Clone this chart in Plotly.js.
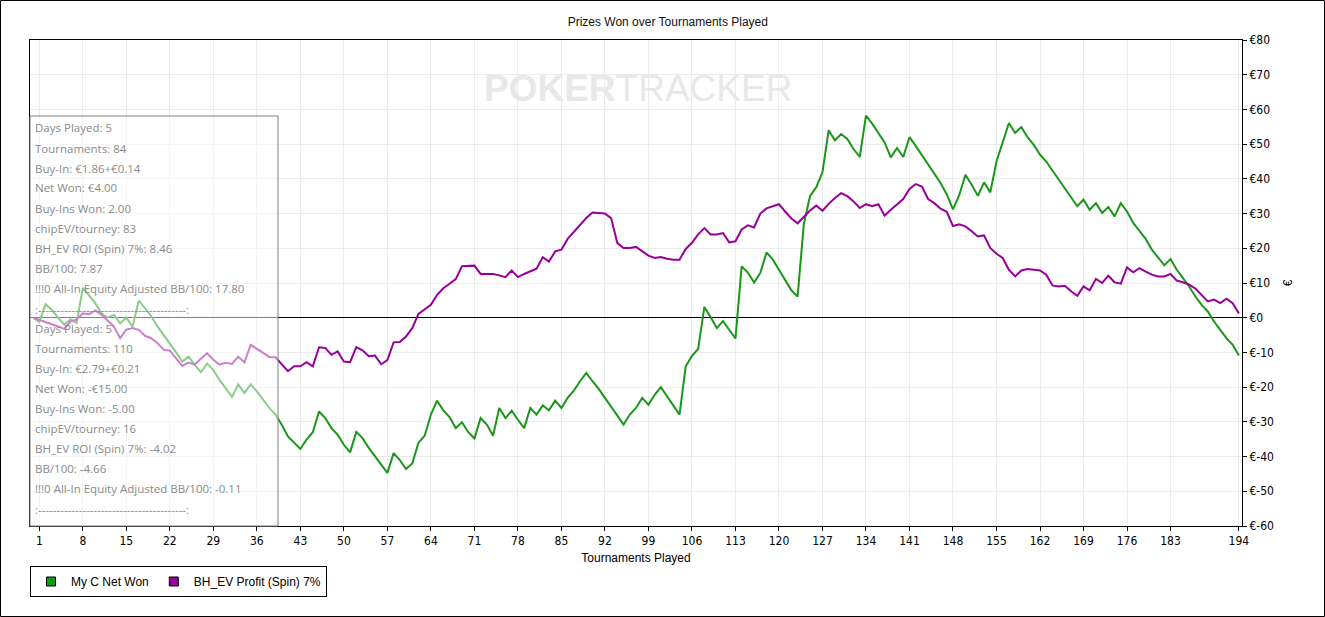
<!DOCTYPE html>
<html>
<head>
<meta charset="utf-8">
<script src="https://cdn.plot.ly/plotly-3.0.1.min.js"></script>
<style>html,body{margin:0;padding:0;background:#fff;}#chart{width:1325px;height:617px;}</style>
</head>
<body>
<div id="chart"></div>
<script>
// Tournament index (0 = start)
const tournaments = Array.from({length: 195}, (_, i) => i);

const netWon = [
0,-1.2,3.9,2.3,0,-2,-0.5,-1.5,8.6,6.3,
4.2,1.3,0,0.8,-1.6,0,-2.6,4.9,2.8,0.5,
-2.5,-4.9,-7.3,-10,-12.6,-11.2,-13.5,-15.7,-13.2,-15.1,
-17.9,-20.3,-22.8,-19.2,-21.7,-19.2,-21.2,-23.6,-26,-27.9,
-30.8,-34.2,-36.1,-37.8,-35.1,-33,-27,-28.9,-31.8,-33.7,
-36.6,-38.8,-32.9,-34.7,-37.5,-39.9,-42.3,-44.7,-39,-41,
-43.6,-42,-36,-34,-27.9,-23.9,-26.7,-28.6,-31.8,-30.1,
-32.9,-34.8,-28.9,-30.8,-34,-26,-28.9,-26.8,-29.4,-31.8,
-26,-27.9,-25.3,-26.7,-23.9,-26,-23.1,-21,-18.3,-15.9,
-18.3,-20.5,-23.1,-25.5,-28.2,-30.8,-27.9,-26,-23.1,-25.1,
-22.2,-20,-22.7,-25.1,-27.9,-14,-11,-9,3.1,0.2,
-3,-1,-3.5,-6,14.8,13,10.1,12.9,18.8,16.8,
13.8,10.7,7.9,6.1,27,35,37.6,41.9,54,51.1,
52.9,51.5,48.6,46.3,58.2,55.9,53.2,50.5,46.2,48.9,
46.3,52,49.5,46.8,44,41.5,38.8,35.5,31.2,35.3,
41.2,38.3,35.1,39,36.1,45,50.3,56.1,53.2,54.9,
52,49.8,47,45,42.4,39.8,37.1,34.8,32.1,34,
31.1,33,30.2,31.9,29.2,33,30.6,27.3,24.9,22.7,
19.6,17.2,15.1,16.9,13.8,11.4,9,6.1,3.7,1.8,
-1.1,-3.5,-5.9,-7.8,-10.9
];

const evProfit = [
0,-0.7,-1.3,-1.9,-2.5,-3.2,-1.1,-0.5,1.3,1,
2.1,0.9,-0.9,-2.5,-5.9,-3.4,-3,-3.5,-5.2,-5.9,
-7.3,-9.2,-9.5,-11.6,-13.9,-12.9,-13.5,-11.8,-10.2,-12.1,
-13.5,-13,-13.3,-11.2,-12.9,-7.8,-9,-10.2,-11.3,-11.4,
-13.5,-15.4,-14,-14,-12.8,-14,-8.5,-8.7,-10.7,-9.7,
-12.6,-12.8,-8.5,-9.4,-11.1,-10.9,-13.4,-12.2,-7.1,-7,
-5.4,-3,1.1,2.5,3.7,6.6,8.5,9.8,11.1,14.8,
15,15,12.6,12.6,12.6,12.2,11.7,13.6,11.7,12.6,
13.3,14.1,17.4,16.2,19.1,19.6,22.7,24.7,27,28.7,
30.3,30.2,30,28.7,21.5,20.1,20.1,20.4,19.1,17.9,
17.2,17.5,17,16.7,16.7,19.8,21.6,24,25.8,24,
24,24.4,21.7,22,25.4,26.6,26,30,31.5,32.1,
32.7,30.6,28.6,27.2,29.2,30.9,32.3,30.8,32.8,34.5,
35.9,35,33.5,31.6,32.7,32.1,32.7,29.4,31.1,32.6,
34.2,37.1,38.5,37.8,34.2,33,31.4,30.5,26.4,26.9,
26.3,24.9,23.4,23.7,20.1,18.4,17.2,13.8,11.9,13.6,
14,13.8,13.6,12.4,9.3,9,9.2,7.6,6.3,9,
7.9,11.2,10,12.1,10.2,9.8,14.5,13.1,14.3,13.3,
12.4,11.9,11.9,12.6,10.7,10.2,9.5,8.4,6.6,4.7,
5.2,4.2,5.5,4.2,1.2
];

const xTickVals = [1,8,15,22,29,36,43,50,57,64,71,78,85,92,99,106,113,120,127,134,141,148,155,162,169,176,183,194];
const yTickVals = [80,70,60,50,40,30,20,10,0,-10,-20,-30,-40,-50,-60];
const yTickText = yTickVals.map(v => v < 0 ? '€-' + Math.abs(v) : '€' + v);

const seriesNames = ['My C Net Won', 'BH_EV Profit (Spin) 7%'];
const seriesColors = ['#1a961a', '#990099'];

const tipBlock1 = ['Days Played: 5','Tournaments: 84','Buy-In: €1.86+€0.14','Net Won: €4.00','Buy-Ins Won: 2.00','chipEV/tourney: 83','BH_EV ROI (Spin) 7%: 8.46','BB/100: 7.87','!!!0 All-In Equity Adjusted BB/100: 17.80',':----------------------------------------:'];
const tipBlock2 = ['Days Played: 5','Tournaments: 110','Buy-In: €2.79+€0.21','Net Won: -€15.00','Buy-Ins Won: -5.00','chipEV/tourney: 16','BH_EV ROI (Spin) 7%: -4.02','BB/100: -4.66','!!!0 All-In Equity Adjusted BB/100: -0.11',':----------------------------------------:'];

// plot geometry in pixels
const W = 1325, H = 617, L = 30, R = 1242, T = 40, B = 526;
const pw = R - L, ph = B - T;
const px = x => (x - L) / pw;
const py = y => (B - y) / ph;

const traces = [
  {x: tournaments, y: netWon, type: 'scatter', mode: 'lines', line: {color: seriesColors[0], width: 2}, showlegend: false, hoverinfo: 'skip'},
  {x: tournaments, y: evProfit, type: 'scatter', mode: 'lines', line: {color: seriesColors[1], width: 2}, showlegend: false, hoverinfo: 'skip'},
  {x: [null], y: [null], type: 'scatter', mode: 'markers', name: seriesNames[0], marker: {symbol: 'square', size: 9, color: '#119911', line: {color: '#000', width: 1}}},
  {x: [null], y: [null], type: 'scatter', mode: 'markers', name: seriesNames[1], marker: {symbol: 'square', size: 9, color: '#990099', line: {color: '#000', width: 1}}}
];

const annotations = [];
const textFont = {family: 'Open Sans, Noto Sans, sans-serif', size: 11.5, color: '#8a8a8a'};
tipBlock1.forEach((t, i) => {
  annotations.push({xref: 'paper', yref: 'paper', x: px(33), y: py(128 + i * 20 + (i === 9 ? 1 : 0)), xanchor: 'left', yanchor: 'middle', text: t, showarrow: false, font: textFont});
});
tipBlock2.forEach((t, i) => {
  annotations.push({xref: 'paper', yref: 'paper', x: px(33), y: py(328 + i * 20 + (i === 9 ? 1 : 0)), xanchor: 'left', yanchor: 'middle', text: t, showarrow: false, font: textFont});
});
annotations.push({xref: 'paper', yref: 'paper', x: px(638), y: py(88), xanchor: 'center', yanchor: 'middle', showarrow: false,
  text: '<b>POKER</b>TRACKER', font: {family: 'Liberation Sans, Arial, sans-serif', size: 37, color: '#e8e8e8'}});

const layout = {
  width: W, height: H,
  margin: {l: L, r: W - R, t: T, b: H - B, pad: 0},
  paper_bgcolor: '#fff', plot_bgcolor: '#fff',
  font: {family: 'Liberation Sans, Arial, sans-serif', size: 12, color: '#000'},
  title: {text: 'Prizes Won over Tournaments Played', x: 0.504, xanchor: 'center', y: 1 - 22 / H, yanchor: 'middle', font: {size: 12, color: '#111'}},
  xaxis: {
    range: [-0.5, 194.5], tickvals: xTickVals, ticktext: xTickVals.map(String),
    showgrid: true, gridcolor: '#ebebeb', gridwidth: 1,
    showline: true, linecolor: '#000', linewidth: 1, mirror: true,
    ticks: 'outside', ticklen: 4, tickcolor: '#000', zeroline: false,
    tickfont: {size: 12, family: 'Liberation Sans Narrow, DejaVu Sans Condensed, Liberation Sans, sans-serif'},
    title: {text: 'Tournaments Played', standoff: 6, font: {size: 12}}
  },
  yaxis: {
    side: 'right', range: [-60, 80], tickvals: yTickVals, ticktext: yTickText,
    showgrid: true, gridcolor: '#ebebeb', gridwidth: 1,
    showline: true, linecolor: '#000', linewidth: 1, mirror: true,
    ticks: 'outside', ticklen: 4, tickcolor: '#000',
    zeroline: true, zerolinecolor: '#000', zerolinewidth: 1,
    tickfont: {size: 12, family: 'Liberation Sans Narrow, DejaVu Sans Condensed, Liberation Sans, sans-serif'},
    title: {text: '€', standoff: 10, font: {size: 12}}
  },
  legend: {
    orientation: 'h', x: 0, xanchor: 'left', y: py(566), yanchor: 'top',
    bordercolor: '#000', borderwidth: 1, bgcolor: '#fff',
    font: {size: 12, family: 'Liberation Sans, Arial, sans-serif'},
    itemwidth: 30, traceorder: 'normal'
  },
  shapes: [
    {type: 'rect', xref: 'paper', yref: 'paper', x0: 0, x1: px(278), y0: 0, y1: py(116), layer: 'above',
      fillcolor: 'rgba(255,255,255,0.5)', line: {color: '#808080', width: 1}},
    {type: 'rect', xref: 'paper', yref: 'paper', x0: px(0.5), x1: px(W - 0.5), y0: py(H - 0.5), y1: py(0.5), layer: 'above',
      fillcolor: 'rgba(0,0,0,0)', line: {color: '#000', width: 1}}
  ],
  annotations: annotations
};

Plotly.newPlot('chart', traces, layout, {displayModeBar: false, staticPlot: true});
</script>
</body>
</html>
